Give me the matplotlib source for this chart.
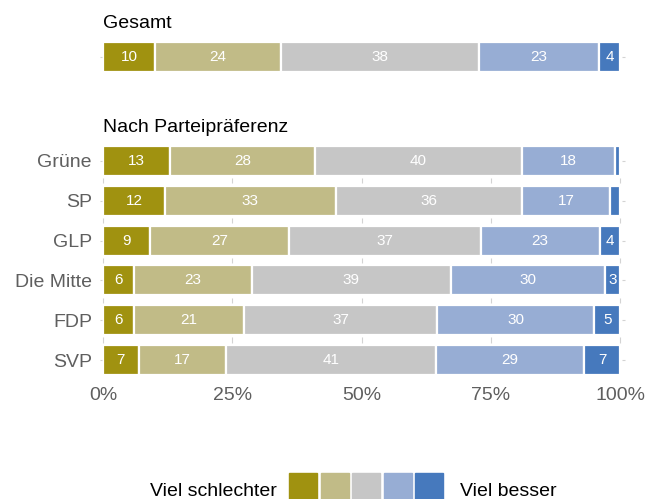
import numpy as np
import matplotlib.pyplot as plt
from matplotlib.patches import Rectangle

plt.rcParams['font.family'] = ['Liberation Sans', 'DejaVu Sans']

# Daten
farben = ['#a09210', '#c1bb87', '#c6c6c6', '#97add4', '#4679bd']
gesamt = [[10, 24, 38, 23, 4]]
parteien = ['Grüne', 'SP', 'GLP', 'Die Mitte', 'FDP', 'SVP']
werte = [
    [13, 28, 40, 18, 1],
    [12, 33, 36, 17, 2],
    [9, 27, 37, 23, 4],
    [6, 23, 39, 30, 3],
    [6, 21, 37, 30, 5],
    [7, 17, 41, 29, 7],
]
ticks = [0, 25, 50, 75, 100]
tick_labels = ['0%', '25%', '50%', '75%', '100%']
legende_links = 'Viel schlechter'
legende_rechts = 'Viel besser'

W, H = 649, 499
fig = plt.figure(figsize=(W / 100, H / 100), dpi=100)
grau = '#d3d3d3'


def px_axes(left, top, right, bottom):
    return fig.add_axes([left / W, 1 - bottom / H, (right - left) / W, (bottom - top) / H])


def zeichne(ax, daten):
    daten = np.array(daten, dtype=float)
    anteile = daten / daten.sum(axis=1, keepdims=True) * 100
    n = len(daten)
    y = np.arange(n)
    links = np.zeros(n)
    for i in range(daten.shape[1]):
        ax.barh(y, anteile[:, i], left=links, height=0.75, color=farben[i],
                edgecolor='white', linewidth=1.6, zorder=2)
        for j in range(n):
            if daten[j, i] >= 3:
                ax.text(links[j] + anteile[j, i] / 2, y[j], str(int(daten[j, i])),
                        ha='center', va='center', color='white', fontsize=11, zorder=3)
        links += anteile[:, i]
    ax.set_xlim(0, 101.7)
    ax.set_ylim(n - 0.4, -0.6)
    ax.set_xticks(ticks)
    ax.set_yticks(y)
    # kurze Gitterstriche zwischen den Balken und seitlich
    for k in range(n - 1):
        ax.vlines(ticks, k + 0.43, k + 0.56, color=grau, linewidth=0.8, zorder=1, clip_on=False)
    ax.hlines(y, 100.3, 101.0, color=grau, linewidth=0.8, zorder=1, clip_on=False)
    ax.hlines(y, -0.6, -0.1, color=grau, linewidth=0.8, zorder=1, clip_on=False)
    for s in ax.spines.values():
        s.set_visible(False)
    ax.tick_params(length=0, labelsize=14, labelcolor='#5f5f5f')


# Gesamt
ax1 = px_axes(103, 33, 629, 81)
zeichne(ax1, gesamt)
ax1.set_xticklabels([])
ax1.set_yticklabels([])

# Nach Parteipräferenz
ax2 = px_axes(103, 137, 629, 384)
zeichne(ax2, werte)
ax2.set_xticklabels(tick_labels)
ax2.set_yticklabels(parteien)
ax2.tick_params(axis='x', pad=2)
ax2.tick_params(axis='y', pad=8)

fig.text(103 / W, 1 - 28 / H, 'Gesamt', va='baseline', ha='left', fontsize=14)
fig.text(103 / W, 1 - 132 / H, 'Nach Parteipräferenz', va='baseline', ha='left', fontsize=14)

# Legende
ax_leg = fig.add_axes([0, 0, 1, 1])
ax_leg.set_xlim(0, W)
ax_leg.set_ylim(H, 0)
ax_leg.axis('off')
for i, f in enumerate(farben):
    ax_leg.add_patch(Rectangle((289 + i * 31.5, 473), 28, 27, color=f))
ax_leg.text(277, 496, legende_links, ha='right', va='baseline', fontsize=14)
ax_leg.text(460, 496, legende_rechts, ha='left', va='baseline', fontsize=14)

fig.savefig('out.png', dpi=100)
